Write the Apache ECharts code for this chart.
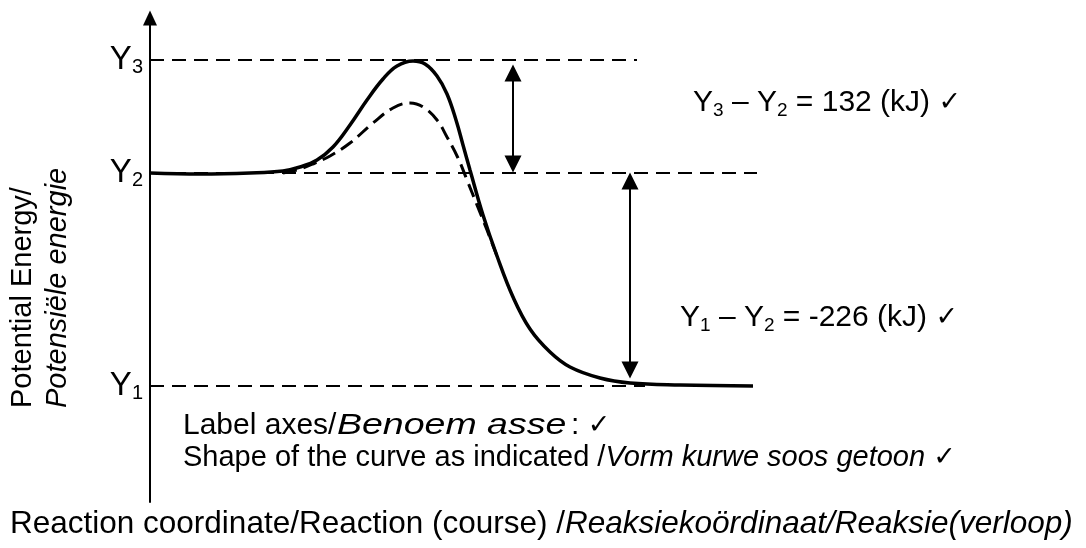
<!DOCTYPE html>
<html>
<head>
<meta charset="utf-8">
<script src="https://cdn.jsdelivr.net/npm/echarts@6/dist/echarts.min.js"></script>
<style>html,body{margin:0;padding:0;background:#fff;}#c{width:1086px;height:548px;}</style>
</head>
<body>
<div id="c"></div>
<script>
// ---- data (x: reaction coordinate units, y: potential energy units; drawing is schematic) ----
const levelNames = ['Y1', 'Y2', 'Y3'];
const levelValues = [116, 329, 442];
const levelEnds = [495, 607, 487];

const solidX = [0, 50, 100, 133, 150, 167, 183, 200, 217, 233, 247, 263, 275, 287, 297, 306, 313, 320, 333, 347, 363, 380, 400, 420, 450, 480, 530, 603];
const solidY = [329, 328, 329, 331, 335, 342, 355, 377, 402, 423, 436, 441, 438, 426, 408, 382, 357, 332, 287, 246, 205, 173, 150, 135, 124, 119, 117, 116];

const dashedX = [133, 150, 165, 180, 200, 223, 243, 260, 273, 287, 297, 308, 317, 327, 337, 347];
const dashedY = [329, 333, 339, 346, 359, 379, 394, 399, 395, 382, 365, 344, 322, 297, 272, 246];

const arrowX = [363, 480];
const arrowTips = [[437, 330], [329, 124]];

const note1 = '{n|Y}{s|3}{n| – Y}{s|2}{n| = 132 (kJ) }{c|✓}';
const note2 = '{n|Y}{s|1}{n| – Y}{s|2}{n| = -226 (kJ) }{c|✓}';
const note3a = 'Label axes/';
const note3b = 'Benoem asse';
const note3c = '{n|: }{c|✓}';
const note4 = '{n|Shape of the curve as indicated /}{i|Vorm kurwe soos getoon}{n| }{c|✓}';
const yTitle = '{n|Potential Energy/}\n{i|Potensiële energie}';
const xTitle = '{n|Reaction coordinate/Reaction (course) /}{i|Reaksiekoördinaat/Reaksie(verloop)}';

const F = '"Liberation Sans", Arial, sans-serif';
const CK = '"DejaVu Sans", sans-serif';
function mkRich(fs, sub, ck) {
  return {
    n: {fontSize: fs, lineHeight: 34, fontFamily: F, color: '#000'},
    y: {fontSize: 33, lineHeight: 34, fontFamily: F, color: '#000'},
    s: {fontSize: sub, lineHeight: 17, verticalAlign: 'bottom', fontFamily: F, color: '#000'},
    i: {fontSize: fs, lineHeight: 34, fontStyle: 'italic', fontFamily: F, color: '#000'},
    c: {fontSize: ck, lineHeight: 34, fontFamily: CK, color: '#000'}
  };
}
const rich30 = mkRich(30, 19, 27);
const rich29 = mkRich(29, 19, 27);
const richAxis = mkRich(30, 20, 27);

const HEAD = 8;
const chart = echarts.init(document.getElementById('c'));

const levelLines = levelNames.map((nm, i) => [
  {name: nm, coord: [0, levelValues[i]]},
  {coord: [levelEnds[i], levelValues[i]]}
]);
const arrowLines = arrowX.map((x, i) => [
  {coord: [x, arrowTips[i][0] - HEAD]},
  {coord: [x, arrowTips[i][1] + HEAD]}
]);

function txt(x, y, text, rich, extra) {
  return Object.assign({type: 'text', x: x, y: y,
    style: {text: text, rich: rich, textAlign: 'left', textVerticalAlign: 'middle'}}, extra || {});
}

chart.setOption({
  animation: false,
  backgroundColor: '#fff',
  grid: {left: 150, right: 36, top: 18, bottom: 46},
  xAxis: {type: 'value', min: 0, max: 900, show: false},
  yAxis: {
    type: 'value', min: 0, max: 484,
    axisLine: {show: true, symbol: ['none', 'triangle'], symbolSize: [14, 15], lineStyle: {color: '#000', width: 2}},
    axisTick: {show: false}, axisLabel: {show: false}, splitLine: {show: false}
  },
  series: [
    {
      type: 'line', name: 'uncatalysed',
      data: solidX.map((x, i) => [x, solidY[i]]),
      smooth: 0.4, showSymbol: false, z: 3,
      lineStyle: {color: '#000', width: 3.5},
      markLine: {
        silent: true, symbol: 'none', z: 1,
        lineStyle: {color: '#000', width: 2, type: [14, 8]},
        label: {
          show: true, position: 'start', distance: 7,
          formatter: p => '{y|Y}{s|' + p.name.slice(1) + '}',
          rich: richAxis
        },
        emphasis: {disabled: true},
        data: levelLines
      }
    },
    {
      type: 'line', name: 'catalysed',
      data: dashedX.map((x, i) => [x, dashedY[i]]),
      smooth: 0.4, showSymbol: false, z: 2,
      lineStyle: {color: '#000', width: 3, type: [14, 7]},
      markLine: {
        silent: true, symbol: ['triangle', 'triangle'], symbolSize: 17,
        lineStyle: {color: '#000', width: 2, type: 'solid'},
        itemStyle: {color: '#000'},
        label: {show: false},
        emphasis: {disabled: true},
        data: arrowLines
      }
    }
  ],
  graphic: [
    txt(693, 103, note1, rich30),
    txt(680, 318, note2, rich30),
    txt(183, 426, '{n|' + note3a + '}', rich30),
    txt(337, 426, '{i|' + note3b + '}', rich30, {scaleX: 1.25}),
    txt(571, 426, note3c, rich30),
    txt(183, 458, note4, rich29),
    txt(40, 408, yTitle, {
      n: {fontSize: 29, lineHeight: 35, fontFamily: F, color: '#000'},
      i: {fontSize: 29, lineHeight: 35, fontStyle: 'italic', fontFamily: F, color: '#000'}
    }, {rotation: Math.PI / 2}),
    txt(10, 524, xTitle, {
      n: {fontSize: 31.5, lineHeight: 35, fontFamily: F, color: '#000'},
      i: {fontSize: 31.5, lineHeight: 35, fontStyle: 'italic', fontFamily: F, color: '#000'}
    })
  ]
});
</script>
</body>
</html>
